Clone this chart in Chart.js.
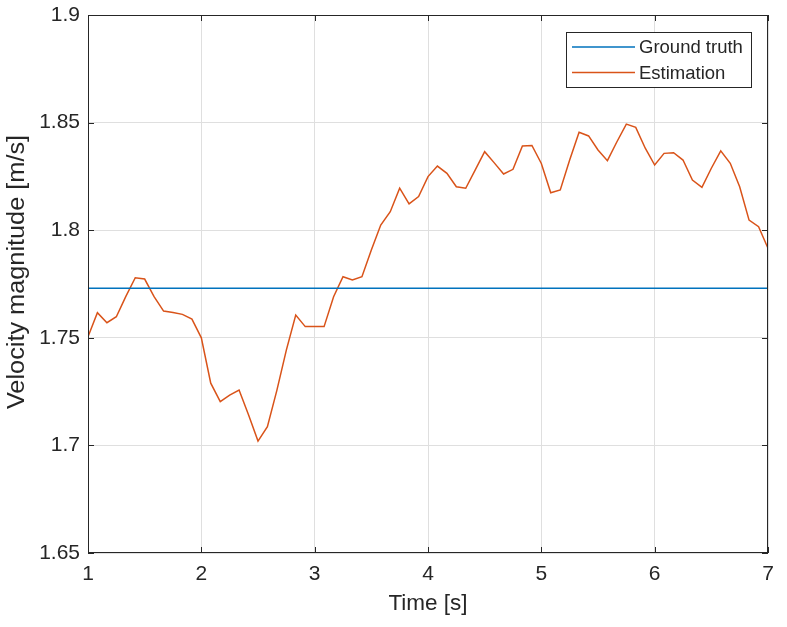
<!DOCTYPE html>
<html><head><meta charset="utf-8">
<script src="https://cdn.jsdelivr.net/npm/chart.js@4/dist/chart.umd.min.js"></script>
<style>html,body{margin:0;padding:0;background:#fff;}#wrap{width:787px;height:627px;position:relative;}</style>
</head><body><div id="wrap"><canvas id="c"></canvas></div>
<script>
// ---- data ----
const times = [
  1.000,1.083,1.167,1.250,1.333,1.417,1.500,1.583,1.667,1.750,1.833,1.917,
  2.000,2.083,2.167,2.250,2.333,2.417,2.500,2.583,2.667,2.750,2.833,2.917,
  3.000,3.083,3.167,3.250,3.333,3.417,3.500,3.583,3.667,3.750,3.833,3.917,
  4.000,4.083,4.167,4.250,4.333,4.417,4.500,4.583,4.667,4.750,4.833,4.917,
  5.000,5.083,5.167,5.250,5.333,5.417,5.500,5.583,5.667,5.750,5.833,5.917,
  6.000,6.083,6.167,6.250,6.333,6.417,6.500,6.583,6.667,6.750,6.833,6.917,
  7.000];
const estimation = [
  1.7505,1.7617,1.7570,1.7598,1.7691,1.7779,1.7773,1.7691,1.7624,1.7618,1.7609,1.7587,
  1.7500,1.7289,1.7203,1.7234,1.7257,1.7141,1.7020,1.7087,1.7257,1.7443,1.7606,1.7552,
  1.7552,1.7552,1.7691,1.7784,1.7769,1.7784,1.7908,1.8024,1.8086,1.8195,1.8122,1.8156,
  1.8249,1.8298,1.8264,1.8202,1.8195,1.8280,1.8365,1.8314,1.8261,1.8283,1.8391,1.8394,
  1.8310,1.8174,1.8187,1.8326,1.8455,1.8438,1.8373,1.8323,1.8411,1.8493,1.8478,1.8381,
  1.8303,1.8357,1.8360,1.8326,1.8233,1.8199,1.8288,1.8369,1.8311,1.8202,1.8047,1.8016,
  1.7916];
const groundTruthTimes = [1, 7];
const groundTruthValues = [1.773, 1.773];
const seriesNames = ['Ground truth', 'Estimation'];
const xTickLabels = ['1','2','3','4','5','6','7'];
const yTickLabels = ['1.65','1.7','1.75','1.8','1.85','1.9'];
const xTitle = 'Time [s]';
const yTitle = 'Velocity magnitude [m/s]';

// ---- styles ----
const FONT = 'Liberation Sans, Arial, Helvetica, sans-serif';
const AXIS_COLOR = '#262626';
const GRID_COLOR = '#dfdfdf';
const TICK_FONT = 21, XTITLE_FONT = 22.5, YTITLE_FONT = 23, YTITLE_STRETCH = 1.1, LEGEND_FONT = 18.5;
const W = 787, H = 627, AREA = {left: 88, top: 15, right: 768, bottom: 553};
const YTITLE_POS = {x: 18, y: 272};

const cv = document.getElementById('c');
cv.width = W; cv.height = H; cv.style.width = W + 'px'; cv.style.height = H + 'px';

const framePlugin = {
  id: 'frame',
  afterDatasetsDraw(chart) {
    const {ctx, chartArea: a, scales: {x, y}} = chart;
    ctx.save();
    ctx.strokeStyle = AXIS_COLOR; ctx.lineWidth = 1;
    ctx.strokeRect(a.left + 0.5, a.top + 0.5, a.right - a.left - 1, a.bottom - a.top - 1);
    const tl = 6;
    ctx.beginPath();
    x.ticks.forEach(t => {
      const px = Math.round(x.getPixelForValue(t.value)) + 0.5;
      ctx.moveTo(px, a.bottom); ctx.lineTo(px, a.bottom - tl);
      ctx.moveTo(px, a.top); ctx.lineTo(px, a.top + tl);
    });
    y.ticks.forEach(t => {
      const py = Math.round(y.getPixelForValue(t.value)) + 0.5;
      ctx.moveTo(a.left, py); ctx.lineTo(a.left + tl, py);
      ctx.moveTo(a.right, py); ctx.lineTo(a.right - tl, py);
    });
    ctx.stroke();
    // y axis title
    ctx.translate(YTITLE_POS.x, YTITLE_POS.y);
    ctx.rotate(-Math.PI / 2);
    ctx.scale(YTITLE_STRETCH, 1);
    ctx.font = YTITLE_FONT + 'px ' + FONT;
    ctx.fillStyle = AXIS_COLOR;
    ctx.textAlign = 'center'; ctx.textBaseline = 'middle';
    ctx.fillText(yTitle, 0, 0);
    ctx.restore();
  }
};

const legendPlugin = {
  id: 'boxLegend',
  afterDraw(chart) {
    const {ctx} = chart;
    const box = {left: 566, top: 32, right: 752, bottom: 88};
    ctx.save();
    ctx.fillStyle = '#ffffff';
    ctx.fillRect(box.left, box.top, box.right - box.left, box.bottom - box.top);
    ctx.strokeStyle = AXIS_COLOR; ctx.lineWidth = 1;
    ctx.strokeRect(box.left + 0.5, box.top + 0.5, box.right - box.left - 1, box.bottom - box.top - 1);
    ctx.font = LEGEND_FONT + 'px ' + FONT;
    ctx.textBaseline = 'middle'; ctx.textAlign = 'left';
    chart.data.datasets.forEach((ds, i) => {
      const yy = 47 + i * 25.5;
      ctx.strokeStyle = ds.borderColor; ctx.lineWidth = ds.borderWidth;
      ctx.beginPath(); ctx.moveTo(572, yy); ctx.lineTo(635, yy); ctx.stroke();
      ctx.fillStyle = AXIS_COLOR;
      ctx.fillText(ds.label, 639, yy + 1);
    });
    ctx.restore();
  }
};

function zeroPad(s) { s.paddingTop = 0; s.paddingBottom = 0; s.paddingLeft = 0; s.paddingRight = 0; }

new Chart(cv, {
  type: 'line',
  data: {
    datasets: [
      {label: seriesNames[0], data: groundTruthTimes.map((t, i) => ({x: t, y: groundTruthValues[i]})),
       borderColor: '#0072BD', borderWidth: 1.5, pointRadius: 0, tension: 0, fill: false},
      {label: seriesNames[1], data: times.map((t, i) => ({x: t, y: estimation[i]})),
       borderColor: '#D95319', borderWidth: 1.5, pointRadius: 0, tension: 0, fill: false}
    ]
  },
  options: {
    responsive: false, animation: false, devicePixelRatio: 1,
    layout: {padding: {left: 0, top: AREA.top, right: W - AREA.right, bottom: 0}},
    plugins: {legend: {display: false}, tooltip: {enabled: false}},
    scales: {
      x: {
        type: 'linear', min: 1, max: 7,
        ticks: {stepSize: 1, autoSkip: false, maxRotation: 0, color: AXIS_COLOR, padding: 9,
                font: {family: FONT, size: TICK_FONT},
                callback: (v, i) => xTickLabels[i]},
        grid: {color: GRID_COLOR, lineWidth: 1, drawTicks: false, tickLength: 0},
        border: {display: false},
        title: {display: true, text: xTitle, color: AXIS_COLOR, font: {family: FONT, size: XTITLE_FONT},
                padding: {top: 0, bottom: 9.5}},
        afterFit: s => { s.height = H - AREA.bottom; zeroPad(s); }
      },
      y: {
        type: 'linear', min: 1.65, max: 1.9,
        ticks: {stepSize: 0.05, color: AXIS_COLOR, padding: 8,
                font: {family: FONT, size: TICK_FONT},
                callback: (v, i) => yTickLabels[i]},
        grid: {color: GRID_COLOR, lineWidth: 1, drawTicks: false, tickLength: 0},
        border: {display: false},
        title: {display: false, text: yTitle},
        afterFit: s => { s.width = AREA.left; zeroPad(s); }
      }
    }
  },
  plugins: [framePlugin, legendPlugin]
});
</script>
</body></html>
